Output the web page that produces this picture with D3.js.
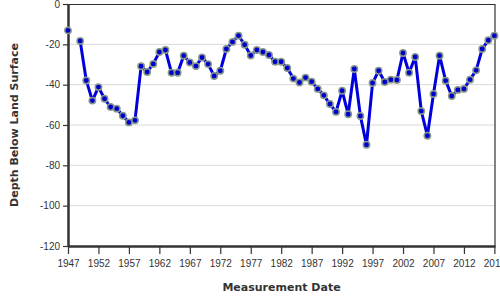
<!DOCTYPE html>
<html>
<head>
<meta charset="utf-8">
<script src="https://cdn.jsdelivr.net/npm/d3@7"></script>
<style>
  body { margin: 0; background: #fff; }
  svg { display: block; font-family: "DejaVu Sans", sans-serif; }
  .grid line { stroke: #d9d9d9; stroke-width: 1; }
  .axis text { fill: #333; font-size: 10px; }
  .axis path, .axis line { stroke: #333; }
  .title { fill: #333; font-size: 11px; font-weight: bold; }
</style>
</head>
<body>
<svg id="chart" width="500" height="300"></svg>
<script>
/* ── Data: yearly depth readings (ft below land surface), null = no reading ── */
const years = [
  1947, 1948, 1949, 1950, 1951, 1952, 1953, 1954, 1955, 1956,
  1957, 1958, 1959, 1960, 1961, 1962, 1963, 1964, 1965, 1966,
  1967, 1968, 1969, 1970, 1971, 1972, 1973, 1974, 1975, 1976,
  1977, 1978, 1979, 1980, 1981, 1982, 1983, 1984, 1985, 1986,
  1987, 1988, 1989, 1990, 1991, 1992, 1993, 1994, 1995, 1996,
  1997, 1998, 1999, 2000, 2001, 2002, 2003, 2004, 2005, 2006,
  2007, 2008, 2009, 2010, 2011, 2012, 2013, 2014, 2015, 2016,
  2017
];
const depths = [
  -13.1, null, -18.3, -37.9, -47.9, -41.2, -47, -51.1, -51.9, -55.4,
  -58.7, -57.7, -30.9, -33.7, -29.7, -23.8, -22.8, -34.1, -34.1, -25.6,
  -29, -30.8, -26.5, -29.8, -35.7, -33.1, -22.3, -18.8, -15.7, -20.2,
  -25.5, -22.8, -23.8, -25.3, -28.6, -28.6, -31.7, -37, -38.9, -36.5,
  -38.5, -42.1, -45.3, -49.6, -53.5, -43, -54.7, -32.2, -55.5, -69.8,
  -39.2, -33.1, -38.7, -37.5, -37.7, -24.3, -34.1, -26.3, -53.1, -65.3,
  -44.6, -25.6, -38, -45.6, -42.6, -42.1, -37.5, -32.9, -22.3, -18,
  -15.7
];
const yTicks = [0, -20, -40, -60, -80, -100, -120];
const xTicks = [1947, 1952, 1957, 1962, 1967, 1972, 1977, 1982, 1987, 1992, 1997, 2002, 2007, 2012, 2017];

const data = years.map((year, i) => ({ year, depth: depths[i] }));

const svg = d3.select('#chart');
const margin = { top: 4, right: 5, bottom: 54, left: 68 };
const width = 500 - margin.left - margin.right;
const height = 300 - margin.top - margin.bottom;

const g = svg.append('g').attr('transform', `translate(${margin.left},${margin.top})`);

/* ── Scales ─────────────────────────────────────────────── */
const x = d3.scaleLinear().domain([1947, 2017.1]).range([0, width]);
const y = d3.scaleLinear().domain([-120, 0]).range([height, 0]);

/* ── Gridlines ──────────────────────────────────────────── */
g.append('g').attr('class', 'grid')
  .selectAll('line')
  .data(yTicks.slice(1, -1))
  .join('line')
  .attr('x1', 0).attr('x2', width)
  .attr('y1', d => y(d)).attr('y2', d => y(d));

/* ── Frame (top + right) ────────────────────────────────── */
g.append('path')
  .attr('d', `M0,0.5H${width}V${height}`)
  .attr('fill', 'none')
  .attr('stroke', '#333')
  .attr('stroke-width', 1.2);

/* ── Axes ───────────────────────────────────────────────── */
const yAxis = g.append('g').attr('class', 'axis')
  .call(d3.axisLeft(y).tickValues(yTicks).tickSize(5).tickPadding(3).tickSizeOuter(0));
const xAxis = g.append('g').attr('class', 'axis')
  .attr('transform', `translate(0,${height})`)
  .call(d3.axisBottom(x).tickValues(xTicks).tickFormat(d3.format('d')).tickSize(8).tickPadding(6).tickSizeOuter(0));

yAxis.select('.domain').attr('stroke-width', 2.5);
xAxis.select('.domain').attr('stroke-width', 2.5);
yAxis.selectAll('.tick line').attr('stroke-width', 1.2);
xAxis.selectAll('.tick line').attr('stroke-width', 1.2);
yAxis.selectAll('.tick text').text(d => d === 0 ? '0' : '-' + Math.abs(d));

/* ── Line + points ──────────────────────────────────────── */
const line = d3.line()
  .defined(d => d.depth !== null)
  .x(d => x(d.year))
  .y(d => y(d.depth));

g.append('path')
  .datum(data)
  .attr('fill', 'none')
  .attr('stroke', '#0000dd')
  .attr('stroke-width', 3)
  .attr('stroke-linejoin', 'round')
  .attr('d', line);

g.selectAll('circle.pt')
  .data(data.filter(d => d.depth !== null))
  .join('circle')
  .attr('class', 'pt')
  .attr('cx', d => x(d.year))
  .attr('cy', d => y(d.depth))
  .attr('r', 3.2)
  .attr('fill', '#0000cc')
  .attr('stroke', '#8a9a8a')
  .attr('stroke-width', 1.5);

/* ── Titles ─────────────────────────────────────────────── */
svg.append('text')
  .attr('class', 'title')
  .attr('text-anchor', 'middle')
  .attr('x', margin.left + width / 2)
  .attr('y', 291)
  .text('Measurement Date');

svg.append('text')
  .attr('class', 'title')
  .attr('text-anchor', 'middle')
  .attr('transform', `translate(18,${margin.top + height / 2}) rotate(-90)`)
  .text('Depth Below Land Surface');
</script>
</body>
</html>
